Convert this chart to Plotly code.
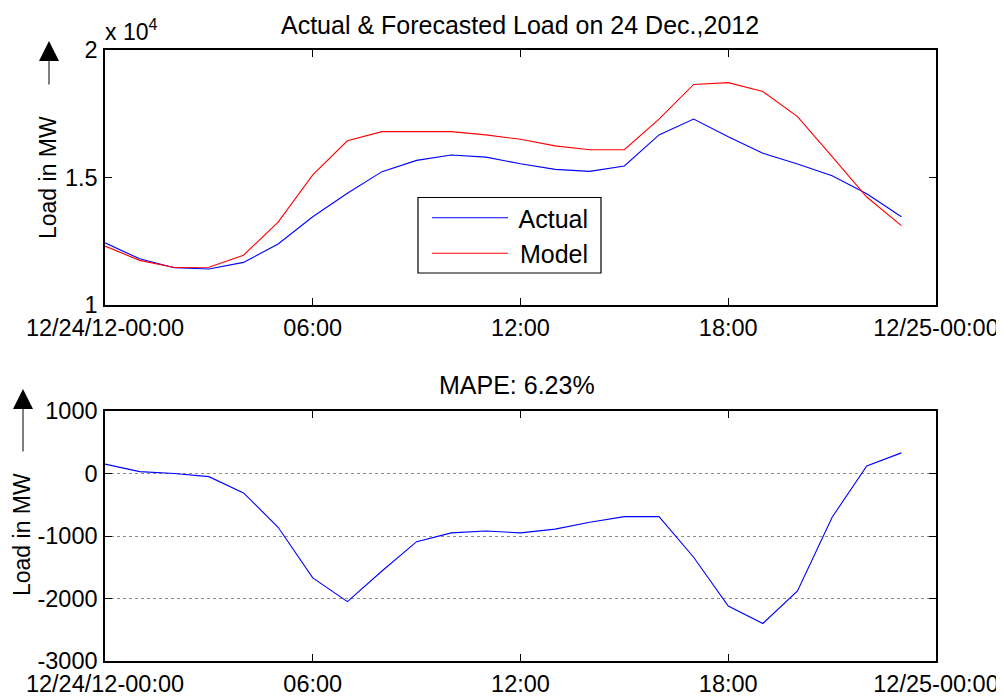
import plotly.graph_objects as go

# ---- data ----
hours = list(range(24))
actual_mw = [12440, 11810, 11460, 11410, 11670, 12390, 13460, 14380, 15230, 15670,
             15880, 15800, 15540, 15320, 15240, 15450, 16670, 17290, 16600, 15950,
             15530, 15070, 14365, 13460]
model_mw = [12310, 11750, 11470, 11480, 11950, 13250, 15100, 16440, 16800, 16800,
            16800, 16670, 16500, 16240, 16090, 16090, 17290, 18650, 18720, 18370,
            17390, 15820, 14235, 13110]
error_mw = [150, 30, 0, -50, -310, -860, -1670, -2050, -1560, -1090,
            -950, -920, -950, -890, -780, -690, -690, -1340, -2120, -2400,
            -1880, -700, 120, 330]

x_tickvals = [0, 6, 12, 18, 24]
x_ticktext = ["12/24/12-00:00", "06:00", "12:00", "18:00", "12/25-00:00"]
top_tickvals = [10000, 15000, 20000]
top_ticktext = ["1", "1.5", "2"]
bottom_tickvals = [-3000, -2000, -1000, 0, 1000]
bottom_ticktext = ["-3000", "-2000", "-1000", "0", "1000"]

title_top = "Actual & Forecasted Load on 24 Dec.,2012"
title_bottom = "MAPE: 6.23%"
ylab = "Load in MW"

# page body has an 8px margin, so the figure is drawn 8px in from the window corner
OFF = 8
W, H = 1004 - OFF, 696 - OFF
FONT = "Liberation Sans, Arial, sans-serif"
TICK_SIZE = 23.5


def px_x(p):
    return (p - OFF) / W


def px_y(p):
    return 1 - (p - OFF) / H


fig = go.Figure()
fig.add_trace(go.Scatter(x=hours, y=actual_mw, mode="lines", name=" Actual",
                         line=dict(color="#0000FF", width=1.1), xaxis="x", yaxis="y"))
fig.add_trace(go.Scatter(x=hours, y=model_mw, mode="lines", name=" Model",
                         line=dict(color="#FF0000", width=1.1), xaxis="x", yaxis="y"))
fig.add_trace(go.Scatter(x=hours, y=error_mw, mode="lines", name="Error",
                         showlegend=False,
                         line=dict(color="#0000FF", width=1.1), xaxis="x2", yaxis="y2"))

common_x = dict(range=[0, 24], tickmode="array", tickvals=x_tickvals, ticktext=x_ticktext,
                showgrid=False, zeroline=False, showline=True, linecolor="black",
                linewidth=1.5, mirror="ticks", ticks="inside", ticklen=7, tickcolor="black",
                tickfont=dict(family=FONT, size=TICK_SIZE, color="black"),
                ticklabelstandoff=1, automargin=False,
                domain=[px_x(105), px_x(936)])
common_y = dict(showline=True, linecolor="black", linewidth=1.5, mirror="ticks",
                ticks="inside", ticklen=7, tickcolor="black", zeroline=False,
                tickfont=dict(family=FONT, size=TICK_SIZE, color="black"),
                ticklabelstandoff=1, automargin=False)

fig.update_layout(
    width=W, height=H,
    paper_bgcolor="white", plot_bgcolor="white",
    margin=dict(l=0, r=0, t=0, b=0),
    font=dict(family=FONT, color="black"),
    xaxis=dict(common_x, anchor="y"),
    yaxis=dict(common_y, range=[10000, 20000], tickmode="array",
               tickvals=top_tickvals, ticktext=top_ticktext, showgrid=False,
               domain=[px_y(305), px_y(50)], anchor="x"),
    xaxis2=dict(common_x, anchor="y2"),
    yaxis2=dict(common_y, range=[-3000, 1000], tickmode="array",
                tickvals=bottom_tickvals, ticktext=bottom_ticktext,
                showgrid=True, gridcolor="#8c8c8c",
                griddash="dot", gridwidth=1,
                domain=[px_y(661), px_y(411)], anchor="x2"),
    showlegend=True,
    legend=dict(x=px_x(427), y=px_y(195), xanchor="left", yanchor="top",
                bgcolor="rgba(0,0,0,0)", borderwidth=0,
                font=dict(family=FONT, size=25, color="black"),
                itemwidth=76, tracegroupgap=0),
    shapes=[dict(type="rect", xref="paper", yref="paper",
                 x0=px_x(418), x1=px_x(601), y0=px_y(273), y1=px_y(197.5),
                 line=dict(color="black", width=1.2), fillcolor="white", layer="below")],
)

ann = []
ann.append(dict(text=title_top, x=px_x(520), y=px_y(25), xref="paper", yref="paper",
                showarrow=False, font=dict(family=FONT, size=25, color="black"),
                xanchor="center", yanchor="middle"))
ann.append(dict(text=title_bottom, x=px_x(517), y=px_y(385), xref="paper", yref="paper",
                showarrow=False, font=dict(family=FONT, size=25, color="black"),
                xanchor="center", yanchor="middle"))
ann.append(dict(text="x 10<sup>4</sup>", x=px_x(103), y=px_y(30), xref="paper", yref="paper",
                showarrow=False, font=dict(family=FONT, size=23, color="black"),
                xanchor="left", yanchor="middle"))
# y-axis labels with arrows
for cx, cy, atail, ahead in [(48, 178, 86, 41), (22, 535, 453, 389)]:
    ann.append(dict(text=ylab, x=px_x(cx), y=px_y(cy), xref="paper", yref="paper",
                    showarrow=False, textangle=-90,
                    font=dict(family=FONT, size=23, color="black"),
                    xanchor="center", yanchor="middle"))
    ann.append(dict(text="", x=px_x(cx + 1), y=px_y(ahead), xref="paper", yref="paper",
                    ax=0, ay=atail - ahead, axref="pixel", ayref="pixel",
                    showarrow=True, arrowhead=2, arrowsize=4, arrowwidth=1,
                    arrowcolor="black"))
fig.update_layout(annotations=ann)

fig.write_html("out.html")
